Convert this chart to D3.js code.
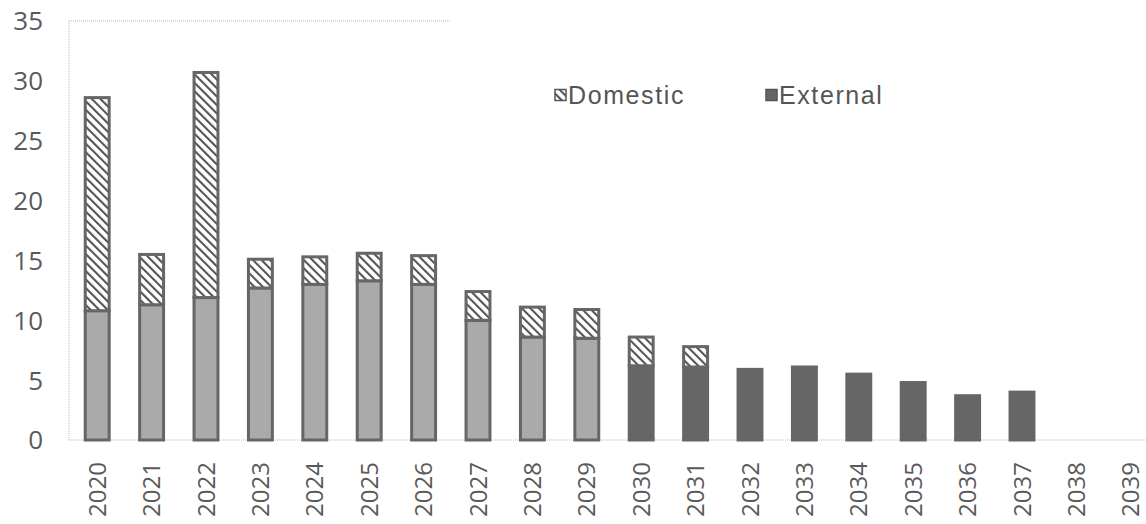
<!DOCTYPE html>
<html>
<head>
<meta charset="utf-8">
<script src="https://cdn.jsdelivr.net/npm/d3@7"></script>
<style>
  html, body { margin: 0; padding: 0; background: #fff; }
  svg { display: block; }
</style>
</head>
<body>
<svg id="chart" width="1146" height="524"></svg>
<script>
// Debt service by year, split into external and domestic parts
const years = ["2020","2021","2022","2023","2024","2025","2026","2027","2028","2029",
               "2030","2031","2032","2033","2034","2035","2036","2037","2038","2039"];
const external = [10.8, 11.3, 11.9, 12.7, 13.0, 13.3, 13.0, 10.0, 8.6, 8.5,
                  6.2, 6.1, 5.9, 6.1, 5.5, 4.8, 3.7, 4.0, 0, 0];
const domestic = [17.8, 4.2, 18.8, 2.4, 2.3, 2.3, 2.4, 2.4, 2.5, 2.4,
                  2.4, 1.7, 0, 0, 0, 0, 0, 0, 0, 0];
const yTicks = [0, 5, 10, 15, 20, 25, 30, 35];
const seriesNames = ["Domestic", "External"];

const svg = d3.select("#chart");
const margin = { left: 70, top: 21, bottom: 84 };
const H = 524;
const x = d3.scaleBand().domain(years).range([70, 1158]).paddingInner(0.56).paddingOuter(0.28);
const y = d3.scaleLinear().domain([0, 35]).range([H - margin.bottom, margin.top]);

const defs = svg.append("defs");
const pat = defs.append("pattern")
  .attr("id", "hatch").attr("patternUnits", "userSpaceOnUse")
  .attr("width", 6).attr("height", 6)
  .attr("patternTransform", "rotate(-45)");
pat.append("rect").attr("width", 6).attr("height", 6).attr("fill", "#fff");
pat.append("line").attr("x1", 0).attr("y1", 0).attr("x2", 0).attr("y2", 6)
  .attr("stroke", "#555").attr("stroke-width", 4.2);

// plot frame (faint dotted)
const frame = svg.append("g").attr("stroke", "#bbb").attr("stroke-dasharray", "1,1").attr("fill", "none");
frame.append("line").attr("x1", 69).attr("x2", 69).attr("y1", y(35)).attr("y2", y(0));
frame.append("line").attr("x1", 69).attr("x2", 450).attr("y1", y(35)).attr("y2", y(35));
frame.append("line").attr("x1", 69).attr("x2", 1146).attr("y1", y(0)).attr("y2", y(0));

// y axis labels
svg.append("g").selectAll("text").data(yTicks).join("text")
  .attr("x", 43).attr("y", d => y(d)).attr("dy", "0.36em")
  .attr("text-anchor", "end")
  .attr("font-family", "'Open Sans', sans-serif").attr("font-size", 26)
  .attr("fill", "#5a5a5a").text(d => d);

// x axis labels, rotated
svg.append("g").selectAll("text").data(years).join("text")
  .attr("transform", d => `translate(${x(d) + x.bandwidth() / 2},${y(0) + 22}) rotate(-90)`)
  .attr("text-anchor", "end").attr("dy", "0.36em")
  .attr("font-family", "'Open Sans', sans-serif").attr("font-size", 24)
  .attr("fill", "#5a5a5a").text(d => d);

// bars
const bars = svg.append("g");
years.forEach((yr, i) => {
  const bx = x(yr), bw = x.bandwidth();
  const ext = external[i], dom = domestic[i];
  const extFill = i < 10 ? "#aaaaaa" : "#666666";
  if (ext > 0) {
    bars.append("rect").attr("x", bx).attr("width", bw)
      .attr("y", y(ext)).attr("height", y(0) - y(ext))
      .attr("fill", extFill).attr("stroke", "#666").attr("stroke-width", 3);
  }
  if (dom > 0) {
    bars.append("rect").attr("x", bx).attr("width", bw)
      .attr("y", y(ext + dom)).attr("height", y(ext) - y(ext + dom))
      .attr("fill", "url(#hatch)").attr("stroke", "#666").attr("stroke-width", 3);
  }
});

// legend
const legend = svg.append("g").attr("font-family", "'Liberation Sans', Arial, sans-serif")
  .attr("font-size", 25).attr("letter-spacing", 1.6).attr("fill", "#555");
const legX = [555, 766];
seriesNames.forEach((name, i) => {
  const g = legend.append("g").attr("transform", `translate(${legX[i]},95)`);
  g.append("rect").attr("x", 0).attr("y", -5.5).attr("width", 11).attr("height", 11)
    .attr("fill", i === 0 ? "url(#hatch)" : "#666").attr("stroke", "#555").attr("stroke-width", 1.5);
  g.append("text").attr("x", 13).attr("y", 0).attr("dy", "0.35em").text(name);
});
</script>
</body>
</html>
